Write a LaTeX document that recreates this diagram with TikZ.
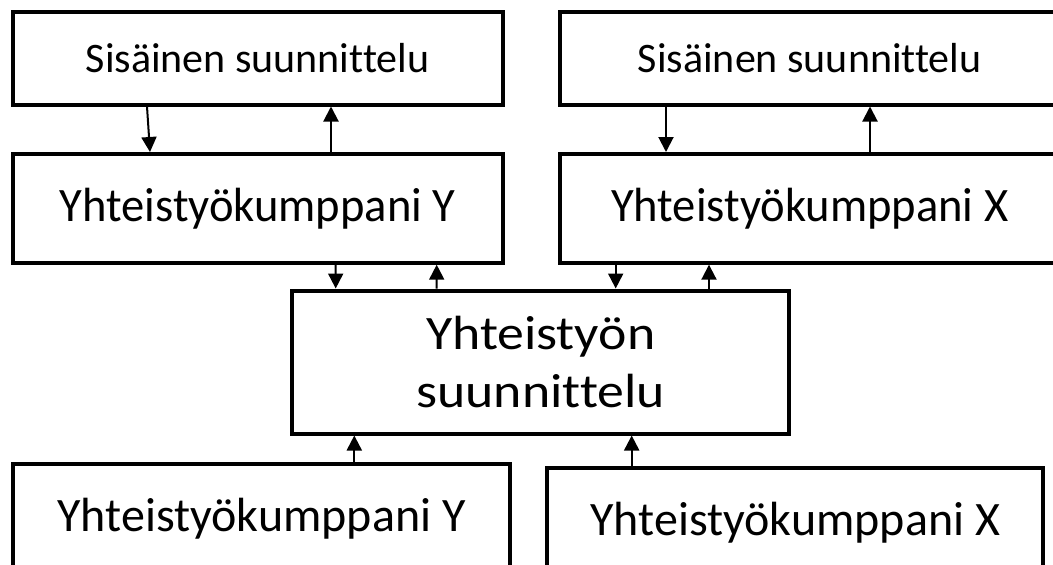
\documentclass[tikz,border=0pt]{standalone}
\usepackage{fontspec}
\setmainfont{Carlito}[Ligatures=NoCommon]
\newfontfamily\partnerfont{Carlito}[Ligatures=NoCommon, FakeStretch=0.97]
\newfontfamily\jointfont{Carlito}[Ligatures=NoCommon, FakeStretch=1.12]
\usetikzlibrary{arrows.meta}

\tikzset{
  box/.style={draw, line width=4pt, rectangle, inner sep=0pt, align=center},
  small/.style={box, font=\fontsize{42}{50}\selectfont},
  big/.style={box, font=\partnerfont\fontsize{48}{58.6}\selectfont},
  low/.style={box, font=\fontsize{48}{58.6}\selectfont},
  joint/.style={box, font=\jointfont\fontsize{48}{58.4}\selectfont},
  link/.style={line width=2pt, -{Triangle[length=15pt,width=15pt]}}
}

\begin{document}
\begin{tikzpicture}[x=1pt, y=-1pt]
  \useasboundingbox (0,0) rectangle (1053,565);

  % internal planning, both sides
  \node[small, minimum width=489.8pt, minimum height=92.8pt] (s1) at (257.6,58.1) {Sisäinen suunnittelu};
  \node[small, minimum width=500.5pt, minimum height=92.8pt] (s2) at (809.75,58.1) {Sisäinen suunnittelu};

  % partners, upper row
  \node[big, minimum width=489.8pt, minimum height=108.7pt] (y1) at (257.6,208.35) {Yhteistyökumppani Y};
  \node[big, minimum width=500.5pt, minimum height=108.7pt] (y2) at (809.75,208.35) {Yhteistyökumppani X};

  % joint planning
  \node[joint, minimum width=497.3pt, minimum height=143pt] (c) at (540.7,362) {Yhteistyön\\suunnittelu};

  % partners, lower row
  \node[low, minimum width=497pt, minimum height=108.7pt] (bl) at (261.5,518.65) {Yhteistyökumppani Y};
  \node[low, minimum width=496pt, minimum height=108.7pt] (br) at (795.3,522.65) {Yhteistyökumppani X};

  % internal planning <-> partner
  \draw[link] ([xshift=-110.6pt]s1.south) -- ([xshift=-107.6pt]y1.north);
  \draw[link] ([xshift=73.4pt]y1.north) -- ([xshift=73.4pt]s1.south);
  \draw[link] ([xshift=-143.75pt]s2.south) -- ([xshift=-143.75pt]y2.north);
  \draw[link] ([xshift=60.25pt]y2.north) -- ([xshift=60.25pt]s2.south);

  % partner <-> joint planning
  \draw[link] ([xshift=78.1pt]y1.south) -- ([xshift=-205pt]c.north);
  \draw[link] ([xshift=-104pt]c.north) -- ([xshift=179.1pt]y1.south);
  \draw[link] ([xshift=-194.05pt]y2.south) -- ([xshift=75pt]c.north);
  \draw[link] ([xshift=168.3pt]c.north) -- ([xshift=-100.75pt]y2.south);

  % lower partners feed joint planning
  \draw[link] ([xshift=92.8pt]bl.north) -- ([xshift=-186.4pt]c.south);
  \draw[link] ([xshift=-163.6pt]br.north) -- ([xshift=91pt]c.south);
\end{tikzpicture}
\end{document}
